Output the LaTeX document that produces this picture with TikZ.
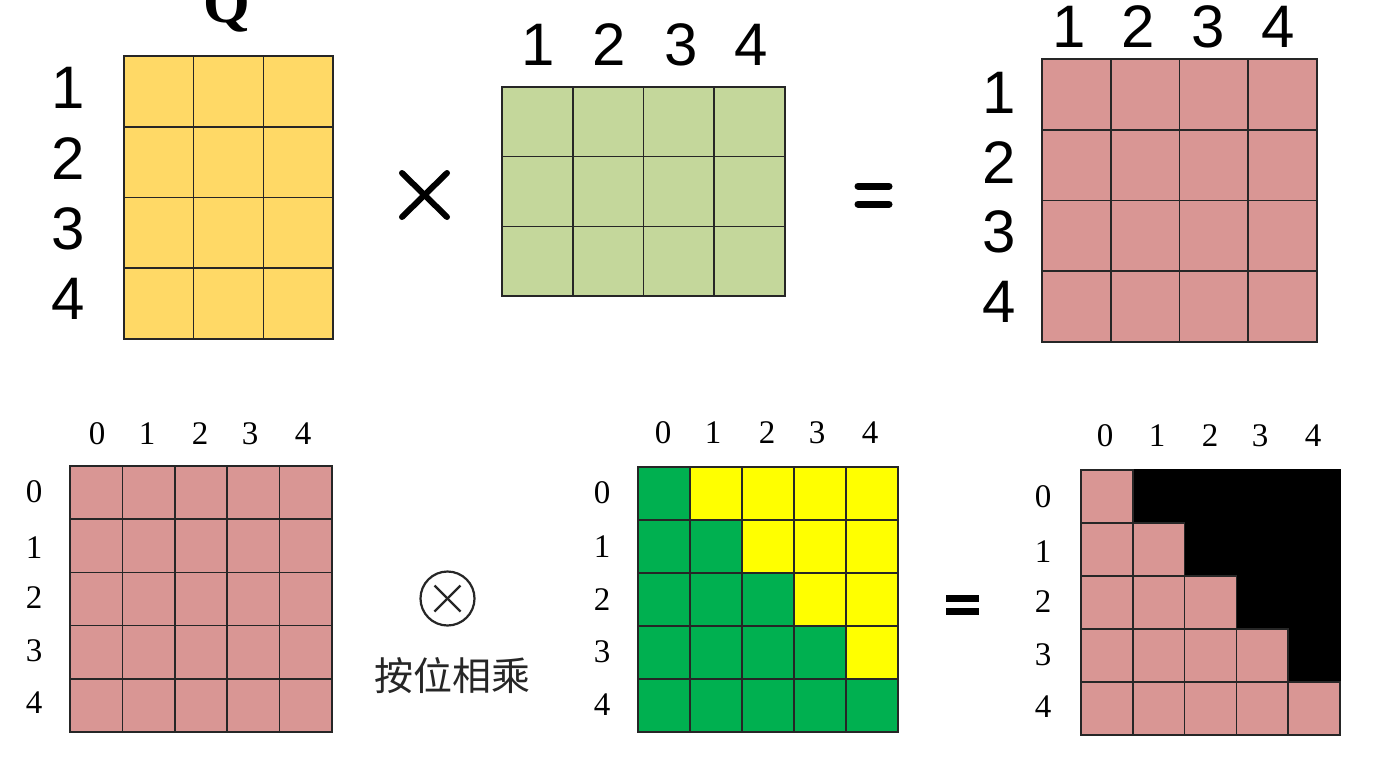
\documentclass[tikz,border=0pt]{standalone}
\usepackage{fontspec}
\setmainfont{Liberation Serif}
\newfontfamily\lsans{Liberation Sans}
\newfontfamily\cjk{Noto Sans CJK SC}
\definecolor{qyel}{HTML}{FFD966}
\definecolor{kgrn}{HTML}{C4D79B}
\definecolor{rpink}{HTML}{D99694}
\definecolor{mgrn}{HTML}{00B050}
\definecolor{myel}{HTML}{FFFF00}
\definecolor{gridc}{HTML}{262626}
\begin{document}
\begin{tikzpicture}[x=1pt,y=-1pt,
  gcell/.style={draw=gridc,line width=1.6pt},
  toplab/.style={font=\lsans\fontsize{60}{60}\selectfont,inner sep=0pt,anchor=center},
  botlab/.style={font=\fontsize{33}{33}\selectfont,inner sep=0pt,anchor=center},
  opline/.style={line width=6pt,line cap=round,black}]
\useasboundingbox[fill=white] (0,0) rectangle (1386,756);

% ---------- top row ----------
% Q matrix (4 x 3)
\foreach \i in {0,...,3}
  \foreach \j in {0,...,2}
    \draw[gcell,fill=qyel] ({124+\j*69.67},{56+\i*70.75}) rectangle ++(69.67,70.75);
\node[font=\bfseries\fontsize{60}{60}\selectfont,inner sep=0pt,anchor=base] (qlab) at (227,22) {Q};
\foreach \t/\y in {1/88,2/159,3/229,4/299}
  \node[toplab] (ql\t) at (68,\y) {\t};

% times sign
\coordinate (xa) at (402,173); \coordinate (xb) at (447,217);
\coordinate (xc) at (447,173); \coordinate (xd) at (402,217);
\draw[opline] (xa) -- (xb);
\draw[opline] (xc) -- (xd);

% K matrix (3 x 4)
\foreach \i in {0,...,2}
  \foreach \j in {0,...,3}
    \draw[gcell,fill=kgrn] ({502+\j*70.75},{87+\i*69.67}) rectangle ++(70.75,69.67);
\foreach \t/\x in {1/538,2/609,3/681,4/751}
  \node[toplab] (kl\t) at (\x,45) {\t};

% equals sign
\coordinate (ea) at (858,186); \coordinate (eb) at (889,186);
\coordinate (ec) at (858,204); \coordinate (ed) at (889,204);
\draw[opline,line width=7pt] (ea) -- (eb);
\draw[opline,line width=7pt] (ec) -- (ed);

% result matrix (4 x 4)
\foreach \i in {0,...,3}
  \foreach \j in {0,...,3}
    \draw[gcell,fill=rpink] ({1042+\j*68.75},{59+\i*70.75}) rectangle ++(68.75,70.75);
\foreach \t/\x in {1/1069,2/1138,3/1208,4/1278}
  \node[toplab] (rc\t) at (\x,27) {\t};
\foreach \t/\y in {1/93,2/163,3/232,4/302}
  \node[toplab] (rr\t) at (999,\y) {\t};

% ---------- bottom row ----------
% score matrix (5 x 5)
\foreach \i in {0,...,4}
  \foreach \j in {0,...,4}
    \draw[gcell,fill=rpink] ({70+\j*52.4},{466+\i*53.2}) rectangle ++(52.4,53.2);
\foreach \t/\x in {0/97,1/147,2/200,3/250,4/303}
  \node[botlab] (sc\t) at (\x,434) {\t};
\foreach \t/\y in {0/492,1/548,2/598,3/651,4/703}
  \node[botlab] (sr\t) at (34,\y) {\t};

% elementwise product symbol
\node[circle,draw=black!85,line width=2.2pt,minimum size=54pt,inner sep=0pt] (otimes) at (447.5,598.5) {};
\draw[line width=2.2pt,black!85] ([shift={(-13,-13)}]otimes.center) -- ([shift={(13,13)}]otimes.center);
\draw[line width=2.2pt,black!85] ([shift={(-13,13)}]otimes.center) -- ([shift={(13,-13)}]otimes.center);
\node[font=\cjk\fontsize{39}{39}\selectfont,inner sep=0pt,text=black!85] (mul) at (452,676) {按位相乘};

% mask matrix (5 x 5)
\foreach \i in {0,...,4}
  \foreach \j in {0,...,4}{
    \ifnum\j>\i
      \draw[gcell,fill=myel] ({638+\j*52},{467+\i*53}) rectangle ++(52,53);
    \else
      \draw[gcell,fill=mgrn] ({638+\j*52},{467+\i*53}) rectangle ++(52,53);
    \fi
  }
\foreach \t/\x in {0/663,1/713,2/767,3/817,4/870}
  \node[botlab] (mc\t) at (\x,433) {\t};
\foreach \t/\y in {0/493,1/547,2/600,3/652,4/705}
  \node[botlab] (mr\t) at (602,\y) {\t};

% equals sign (bottom)
\coordinate (fa) at (946,598.5); \coordinate (fb) at (979,598.5);
\coordinate (fc) at (946,611.5); \coordinate (fd) at (979,611.5);
\draw[opline,line width=6.5pt,line cap=butt] (fa) -- (fb);
\draw[opline,line width=6.5pt,line cap=butt] (fc) -- (fd);

% masked result (5 x 5)
\foreach \i in {0,...,4}
  \foreach \j in {0,...,4}{
    \ifnum\j>\i
      \fill[black] ({1081+\j*51.8},{470+\i*53}) rectangle ++(51.8,53);
    \fi
  }
\draw[black,line width=1.6pt] (1133,470) rectangle (1340,682);
\foreach \i in {0,...,4}
  \foreach \j in {0,...,4}{
    \ifnum\j>\i\else
      \draw[gcell,fill=rpink] ({1081+\j*51.8},{470+\i*53}) rectangle ++(51.8,53);
    \fi
  }
\foreach \t/\x in {0/1105,1/1157,2/1210,3/1260,4/1313}
  \node[botlab] (oc\t) at (\x,436) {\t};
\foreach \t/\y in {0/497,1/552,2/602,3/655,4/707}
  \node[botlab] (or\t) at (1043,\y) {\t};
\end{tikzpicture}
\end{document}
